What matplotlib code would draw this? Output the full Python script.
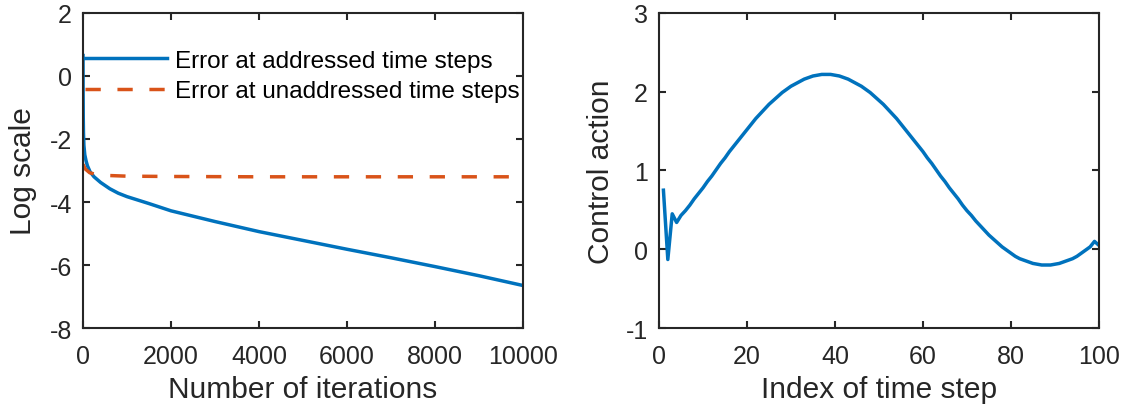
import matplotlib
matplotlib.use("Agg")
import matplotlib.pyplot as plt

# ---- Left panel data (log-scale errors vs iterations) ----
iter_addressed = [0, 2, 5, 10, 20, 40, 70, 100, 160, 250, 400, 610, 800, 1000,
                  1500, 2000, 3000, 4000, 5000, 6000, 7000, 8000, 9000, 10000]
err_addressed = [0.65, -0.5, -1.3, -1.8, -2.2, -2.5, -2.7, -2.85, -3.04, -3.2,
                 -3.38, -3.58, -3.72, -3.83, -4.05, -4.28, -4.62, -4.94, -5.22,
                 -5.5, -5.77, -6.05, -6.34, -6.65]
iter_unaddressed = [0, 50, 150, 300, 600, 1000, 2000, 4000, 7000, 10000]
err_unaddressed = [-2.8, -2.95, -3.07, -3.13, -3.16, -3.18, -3.19, -3.2, -3.2, -3.2]

# ---- Right panel data (control action vs time-step index) ----
step_index = list(range(1, 101))
control_action = [
    0.75, -0.13, 0.45, 0.34, 0.43, 0.49, 0.56, 0.64, 0.71, 0.78,
    0.86, 0.93, 1.01, 1.09, 1.16, 1.24, 1.31, 1.38, 1.45, 1.52,
    1.59, 1.66, 1.72, 1.78, 1.84, 1.89, 1.94, 1.99, 2.03, 2.07,
    2.10, 2.13, 2.16, 2.18, 2.20, 2.21, 2.22, 2.22, 2.22, 2.21,
    2.20, 2.18, 2.16, 2.13, 2.10, 2.07, 2.03, 1.99, 1.94, 1.89,
    1.84, 1.78, 1.72, 1.66, 1.59, 1.52, 1.45, 1.38, 1.31, 1.24,
    1.16, 1.09, 1.01, 0.93, 0.86, 0.78, 0.71, 0.64, 0.56, 0.49,
    0.43, 0.36, 0.30, 0.24, 0.18, 0.13, 0.08, 0.03, -0.01, -0.05,
    -0.09, -0.12, -0.14, -0.16, -0.18, -0.19, -0.20, -0.20, -0.20, -0.19,
    -0.18, -0.16, -0.14, -0.12, -0.09, -0.05, -0.01, 0.03, 0.10, 0.05,
]

left_xticks = [0, 2000, 4000, 6000, 8000, 10000]
left_yticks = [-8, -6, -4, -2, 0, 2]
right_xticks = [0, 20, 40, 60, 80, 100]
right_yticks = [-1, 0, 1, 2, 3]

BLUE = "#0072BD"
ORANGE = "#D95319"
DARK = "#262626"

plt.rcParams['font.family'] = ['Liberation Sans', 'DejaVu Sans']
plt.rcParams['axes.unicode_minus'] = False

fig = plt.figure(figsize=(11.25, 4.14), dpi=100)
axL = fig.add_axes([0.0738, 0.2053, 0.391, 0.7609])
axR = fig.add_axes([0.5858, 0.2053, 0.391, 0.7609])

def style(ax):
    for s in ax.spines.values():
        s.set_linewidth(1.5)
        s.set_color(DARK)
    ax.tick_params(direction='in', length=5, width=1.5, colors=DARK,
                   labelsize=18, top=True, right=True)
    ax.tick_params(axis='x', pad=11.5)
    ax.tick_params(axis='y', pad=8)

axL.plot(iter_addressed, err_addressed, color=BLUE, lw=2.5,
         label="Error at addressed time steps")
axL.plot(iter_unaddressed, err_unaddressed, color=ORANGE, lw=2.5,
         dashes=(4.4, 4.8), label="Error at unaddressed time steps")
axL.set_xlim(0, 10000)
axL.set_ylim(-8, 2)
axL.set_xticks(left_xticks)
axL.set_yticks(left_yticks)
axL.set_xlabel("Number of iterations", fontsize=21.5, color=DARK, labelpad=5)
axL.set_ylabel("Log scale", fontsize=21.5, color=DARK, labelpad=9)
style(axL)
leg = axL.legend(loc='upper left', bbox_to_anchor=(-0.018, 0.915), frameon=False,
                 fontsize=17.5, handlelength=3.4, handletextpad=0.3,
                 labelspacing=0.35, borderaxespad=0.0)

axR.plot(step_index, control_action, color=BLUE, lw=2.5)
axR.set_xlim(0, 100)
axR.set_ylim(-1, 3)
axR.set_xticks(right_xticks)
axR.set_yticks(right_yticks)
axR.set_xlabel("Index of time step", fontsize=21.5, color=DARK, labelpad=5)
axR.set_ylabel("Control action", fontsize=21.5, color=DARK, labelpad=8)
style(axR)

fig.savefig("out.png", dpi=100)
